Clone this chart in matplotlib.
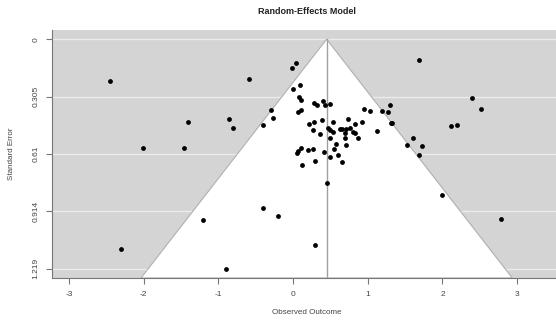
import numpy as np
import matplotlib.pyplot as plt

plt.rcParams['font.family'] = ['Liberation Sans', 'DejaVu Sans']

# pooled estimate of the random-effects model
estimate = 0.45

# observed outcomes and their standard errors
yi = [-2.45, -0.593, -0.30, -0.27, -0.40, -0.857, -0.81, -1.40, -2.01, -1.455,
      -0.02, 0.04, 1.69, 0.0, 0.10, 0.085, 0.107, 0.277, 0.32, 0.40,
      0.43, 0.495, 0.063, 0.107, 0.946, 1.035, 1.195, 1.276, 1.30, 1.31,
      1.33, 1.13, 1.60, 1.52, 1.73, 1.69, 2.39, 2.52, 2.11, 2.20,
      2.0, 2.79, -2.30, -1.20, -0.406, -0.197, -0.897, 0.30, 0.455,
      0.21, 0.277, 0.39, 0.53, 0.73, 0.83, 0.92, 0.27, 0.47, 0.50,
      0.53, 0.36, 0.63, 0.66, 0.705, 0.767, 0.80, 0.835, 0.70, 0.495,
      0.70, 0.87, 0.576, 0.71, 0.55, 0.107, 0.067, 0.058, 0.197, 0.27,
      0.41, 0.60, 0.495, 0.30, 0.66, 0.12]
sei = [0.224, 0.21, 0.376, 0.417, 0.456, 0.424, 0.47, 0.44, 0.579, 0.579,
       0.152, 0.129, 0.11, 0.265, 0.242, 0.306, 0.325, 0.341, 0.35, 0.329,
       0.352, 0.343, 0.389, 0.376, 0.373, 0.382, 0.38, 0.387, 0.35, 0.447,
       0.447, 0.486, 0.523, 0.563, 0.567, 0.615, 0.311, 0.371, 0.461, 0.454,
       0.827, 0.952, 1.115, 0.961, 0.894, 0.94, 1.219, 1.09, 0.761,
       0.45, 0.44, 0.431, 0.44, 0.422, 0.45, 0.44, 0.48, 0.473, 0.48,
       0.493, 0.503, 0.479, 0.478, 0.478, 0.473, 0.493, 0.498, 0.498, 0.527,
       0.525, 0.527, 0.556, 0.562, 0.581, 0.578, 0.594, 0.602, 0.588, 0.583,
       0.597, 0.617, 0.627, 0.647, 0.654, 0.669]

se_ticks = [0, 0.305, 0.61, 0.914, 1.219]
se_labels = ["0", "0.305", "0.61", "0.914", "1.219"]
x_ticks = [-3, -2, -1, 0, 1, 2, 3]

fig = plt.figure(figsize=(5.56, 3.25), dpi=100)
ax = fig.add_axes([52 / 556, 47 / 325, 504 / 556, 248 / 325])

ymax = 1.2678
ax.set_xlim(-3.226, 3.52)
ax.set_ylim(ymax, -0.0488)
ax.set_facecolor("#d4d4d4")

# light horizontal lines in the grey background
for t in se_ticks:
    ax.axhline(t, color="#ececec", lw=0.9, zorder=1)

# pseudo confidence region
se_fun = np.array([0, ymax])
fx = np.concatenate([estimate - 1.96 * se_fun, (estimate + 1.96 * se_fun)[::-1]])
fy = np.concatenate([se_fun, se_fun[::-1]])
ax.fill(fx, fy, facecolor="white", edgecolor="#b0b0b0", lw=0.8, zorder=2)

ax.plot([estimate, estimate], [0, ymax], color="#a0a0a0", lw=1.0, zorder=3)

ax.scatter(yi, sei, s=12, color="black", zorder=4, linewidths=0)

ax.set_xticks(x_ticks)
ax.set_xticklabels([str(v) for v in x_ticks])
ax.set_yticks(se_ticks)
ax.set_yticklabels(se_labels, rotation=90, va="center")
ax.tick_params(direction="out", length=4, width=0.8, color="#777777",
               labelsize=6, labelcolor="#444444", pad=5)

for s in ["top", "right"]:
    ax.spines[s].set_visible(False)
for s in ["left", "bottom"]:
    ax.spines[s].set_color("#777777")
    ax.spines[s].set_linewidth(0.8)

fig.text(307 / 556, 1 - 11 / 325, "Random-Effects Model", ha="center", va="center",
         fontsize=6.5, fontweight="bold", color="#222222")
fig.text(307 / 556, 1 - 313 / 325, "Observed Outcome", ha="center", va="center",
         fontsize=5.8, color="#444444")
fig.text(12 / 556, 1 - 154 / 325, "Standard Error", ha="center", va="center",
         rotation=90, fontsize=5.8, color="#444444")

fig.savefig("out.png", dpi=100)
